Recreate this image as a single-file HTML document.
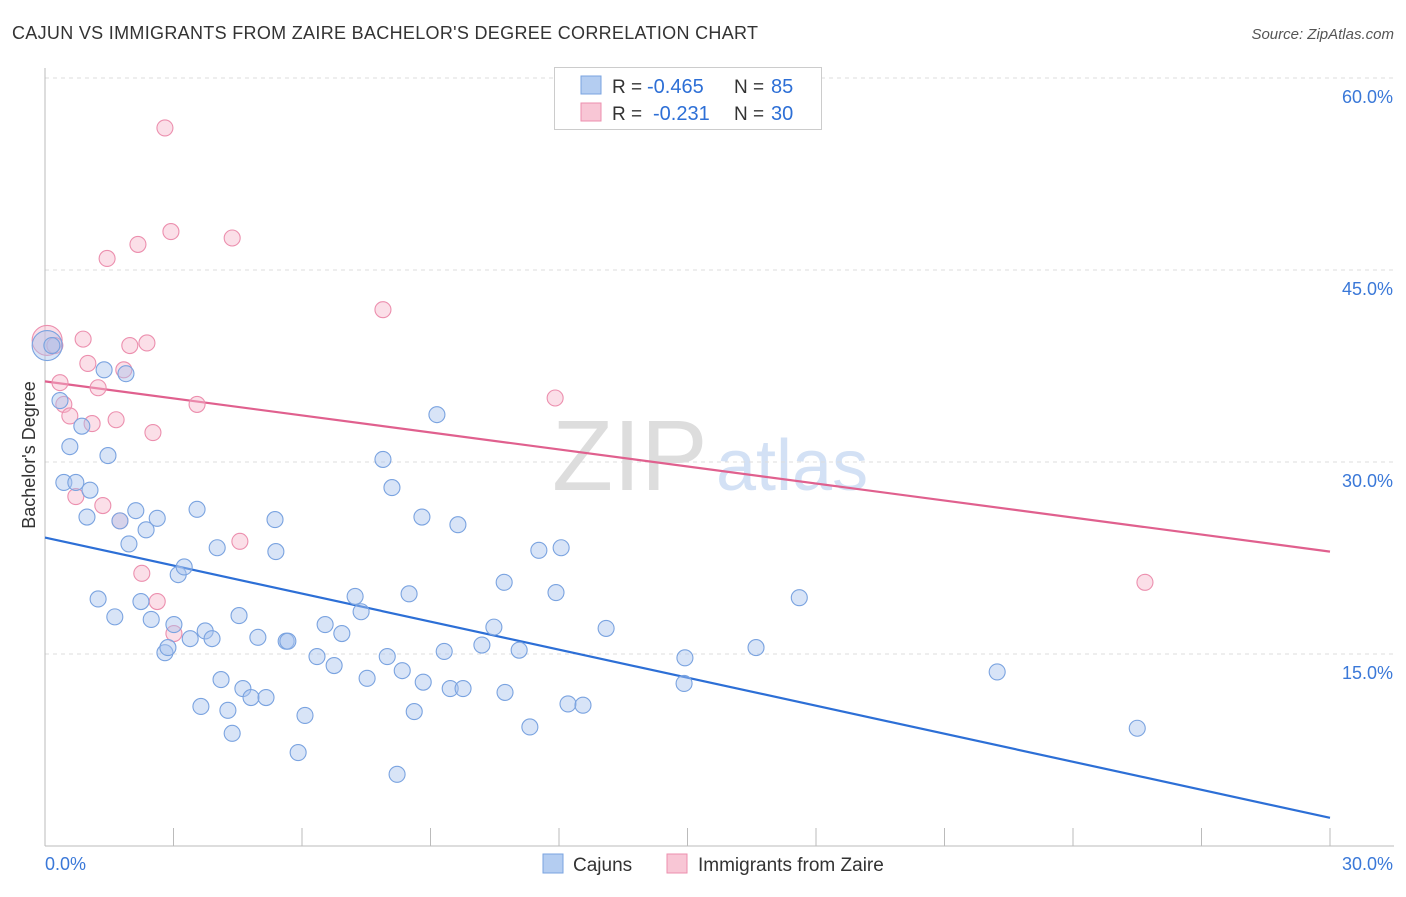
<!DOCTYPE html>
<html><head><meta charset="utf-8"><style>
body{margin:0;background:#fff;font-family:"Liberation Sans",sans-serif;}
svg text{font-family:"Liberation Sans",sans-serif;}
</style></head><body>
<svg id="chart" width="1406" height="892" viewBox="0 0 1406 892">
<text x="12" y="39" font-size="18" fill="#333" textLength="746" lengthAdjust="spacing">CAJUN VS IMMIGRANTS FROM ZAIRE BACHELOR'S DEGREE CORRELATION CHART</text>
<text x="1394" y="39" font-size="15" fill="#555" text-anchor="end" font-style="italic">Source: ZipAtlas.com</text>
<g>
<text x="552" y="490" font-size="100" fill="#ddd" font-family="Liberation Serif">ZIP</text>
<text x="716" y="490" font-size="72" fill="#d3e1f5">atlas</text>
</g>
<g id="grid"></g><g id="axes"></g><g id="lines"></g><g id="points"></g>
<text x="35" y="455" font-size="18" fill="#333" text-anchor="middle" transform="rotate(-90 35 455)">Bachelor's Degree</text>
<g>
<rect x="554.5" y="67.5" width="267" height="62" fill="#fff" stroke="#ccc"/>
<rect x="581" y="76" width="20" height="18" fill="#b4cdf1" stroke="#7aa3e0"/>
<text x="612" y="93" font-size="19" fill="#333">R =</text>
<text x="647" y="93" font-size="20" fill="#2d6fd6">-0.465</text>
<text x="734" y="93" font-size="19" fill="#333">N =</text>
<text x="771" y="93" font-size="20" fill="#2d6fd6">85</text>
<rect x="581" y="103" width="20" height="18" fill="#f8c6d5" stroke="#ec8fae"/>
<text x="612" y="120" font-size="19" fill="#333">R =</text>
<text x="653" y="120" font-size="20" fill="#2d6fd6">-0.231</text>
<text x="734" y="120" font-size="19" fill="#333">N =</text>
<text x="771" y="120" font-size="20" fill="#2d6fd6">30</text>
</g>
<g>
<rect x="543" y="854" width="20" height="19" fill="#b4cdf1" stroke="#7aa3e0"/>
<text x="573" y="871" font-size="19" fill="#333">Cajuns</text>
<rect x="667" y="854" width="20" height="19" fill="#f8c6d5" stroke="#ec8fae"/>
<text x="698" y="871" font-size="19" fill="#333">Immigrants from Zaire</text>
</g>
</svg>
<script>
const yTicks=[15,30,45,60];
const xTickLabels=["0.0%","30.0%"];
const cajunX=[0.05,0.16,0.35,0.58,0.44,0.72,0.86,1.05,0.98,1.38,1.89,1.47,1.24,1.63,1.75,1.96,2.12,2.36,2.62,2.24,2.48,3.01,2.80,2.87,3.11,3.25,3.39,3.55,3.74,3.90,4.02,3.64,4.11,4.27,4.37,4.53,4.62,4.81,5.16,4.97,5.37,5.39,5.63,5.67,5.91,6.07,6.35,6.54,6.75,6.93,7.24,7.38,7.52,7.89,7.99,8.10,8.22,8.34,8.50,8.62,8.83,8.80,9.15,9.32,9.46,9.76,9.64,10.20,10.48,10.72,10.74,11.07,11.32,11.53,11.93,12.05,12.21,12.56,13.10,14.92,14.94,16.60,17.61,22.23,25.50];
const cajunY=[39.1,39.1,34.8,31.2,28.4,28.4,32.8,27.8,25.7,37.2,36.9,30.5,19.3,17.9,25.4,23.6,26.2,24.7,25.6,19.1,17.7,17.3,15.1,15.5,21.2,21.8,16.2,26.3,16.8,16.2,23.3,10.9,13.0,10.6,8.8,18.0,12.3,11.6,11.6,16.3,25.5,23.0,16.0,16.0,7.3,10.2,14.8,17.3,14.1,16.6,19.5,18.3,13.1,30.2,14.8,28.0,5.6,13.7,19.7,10.5,12.8,25.7,33.7,15.2,12.3,12.3,25.1,15.7,17.1,20.6,12.0,15.3,9.3,23.1,19.8,23.3,11.1,11.0,17.0,12.7,14.7,15.5,19.4,13.6,9.2];
const zaireX=[0.05,0.23,2.80,2.94,2.17,1.45,4.37,7.89,0.89,1.98,2.38,1.00,1.84,0.35,1.24,0.44,3.55,0.58,1.66,1.10,2.52,11.91,0.72,1.35,1.75,4.55,2.26,2.62,3.01,25.68];
const zaireY=[39.5,39.1,56.1,48.0,47.0,45.9,47.5,41.9,39.6,39.1,39.3,37.7,37.2,36.2,35.8,34.5,34.5,33.6,33.3,33.0,32.3,35.0,27.3,26.6,25.4,23.8,21.3,19.1,16.6,20.6];
const cajunTrend=[24.1,2.2];
const zaireTrend=[36.3,23.0];

const NS="http://www.w3.org/2000/svg";
const X0=45,X1=1330,YB=846,YT=78;
const sx=v=>X0+v/30*(X1-X0);
const sy=v=>YB-v/60*(YB-YT);
function mk(tag,attrs,parent){const e=document.createElementNS(NS,tag);for(const k in attrs)e.setAttribute(k,attrs[k]);document.getElementById(parent).appendChild(e);return e;}

yTicks.forEach(t=>{
  const l=mk('line',{x1:X0,x2:1394,y1:sy(t),y2:sy(t),stroke:'#ddd','stroke-dasharray':'4,4'},'grid');
  
  
  const tx=mk('text',{x:1393,y:sy(t)+25,'font-size':18,fill:'#3a78d8','text-anchor':'end'},'grid');
  tx.textContent=t.toFixed(1)+'%';
  
  
});
const ya=mk('line',{x1:X0,x2:X0,y1:68,y2:YB,stroke:'#bbb'},'axes');


const xa=mk('line',{x1:X0,x2:1394,y1:YB,y2:YB,stroke:'#bbb'},'axes');


for(let i=0;i<=10;i++){
  const t=mk('line',{x1:sx(i*3),x2:sx(i*3),y1:828,y2:YB,stroke:'#bbb'},'axes');
  
  
}
[[0,'start',45],[30,'end',1393]].forEach((d,i)=>{
  const t=mk('text',{x:d[2],y:870,'font-size':18,fill:'#3a78d8','text-anchor':d[1]},'axes');
  t.textContent=xTickLabels[i];
  
  
});

function dots(xs,ys,fill,stroke,name){
  xs.forEach((x,i)=>{
    const r=(i===0)?15:8;
    const c=mk('circle',{cx:sx(x),cy:sy(ys[i]),r:r,fill:fill,'fill-opacity':0.45,stroke:stroke,'stroke-width':1.1},'points');
    
    
  });
}
dots(zaireX,zaireY,'#f6b8cc','#ec8fae','zaire-point');
dots(cajunX,cajunY,'#a9c4ee','#7aa3e0','cajun-point');

const l1=mk('line',{x1:sx(0),y1:sy(cajunTrend[0]),x2:sx(30),y2:sy(cajunTrend[1]),stroke:'#2d6fd6','stroke-width':2.2},'lines');


const l2=mk('line',{x1:sx(0),y1:sy(zaireTrend[0]),x2:sx(30),y2:sy(zaireTrend[1]),stroke:'#e0608e','stroke-width':2.2},'lines');


</script>
</body></html>
